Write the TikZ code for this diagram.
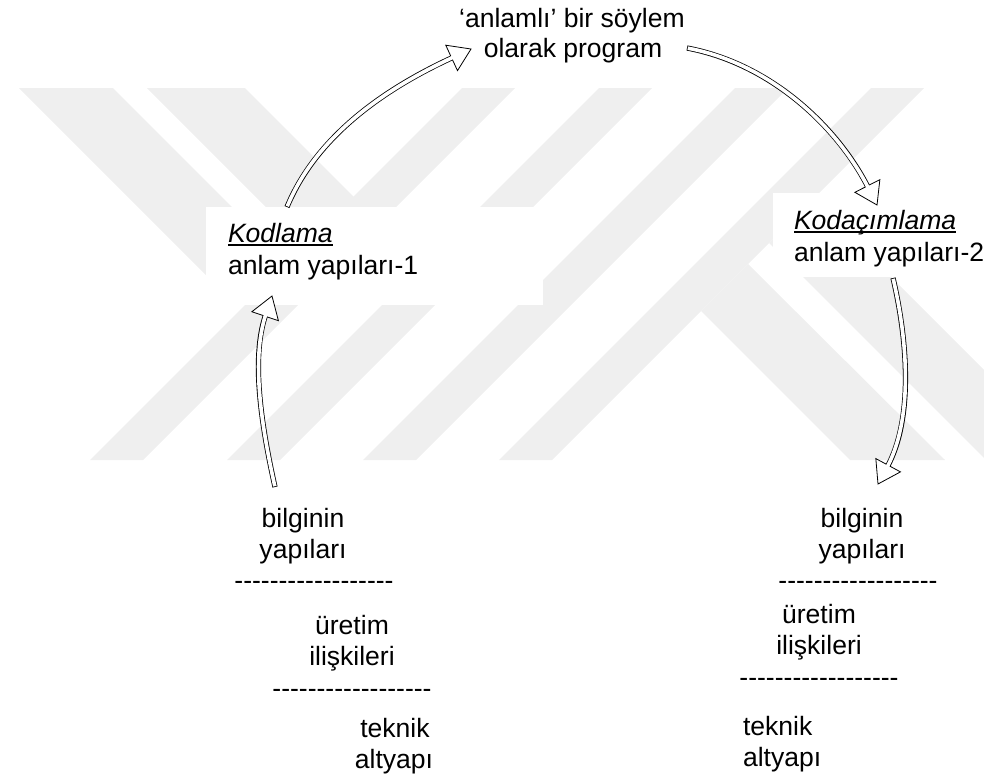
\documentclass[tikz,border=0pt]{standalone}
\usepackage{fontspec}
\setmainfont{Liberation Sans}
\usetikzlibrary{decorations.markings}
\definecolor{wm}{RGB}{239,239,239}
\newcommand\dashrow{-{}-{}-{}-{}-{}-{}-{}-{}-{}-{}-{}-{}-{}-{}-{}-{}-{}-}
\tikzset{
  txt/.style={inner sep=0pt, outer sep=0pt, font=\fontsize{19.9pt}{23pt}\selectfont},
  headmark/.style={decoration={markings, mark=at position 1 with {
      \filldraw[fill=white, draw=black, line width=0.6pt, line join=miter]
        (0pt,0pt) -- (-16pt,10.5pt) -- (-16pt,-10.5pt) -- cycle;}}},
  wordarrow/.style={
    preaction={draw=black, line width=3.9pt, shorten >=15pt},
    postaction={decorate, headmark},
    postaction={draw=white, line width=2.7pt, shorten <=0.6pt, shorten >=14pt}},
  uline/.style={line width=1.1pt},
}
\begin{document}
\begin{tikzpicture}[x=0.75pt,y=-0.75pt]
\useasboundingbox (0,0) rectangle (984,775);
% watermark
\begin{scope}
  \clip (0,88) rectangle (984,460);
  \foreach \b in {90,227,363,499}
    \fill[wm] (\b,460) -- ++(53,0) -- ++(372,-372) -- ++(-53,0) -- cycle;
  \fill[wm] (19,88) -- (113,88) -- (325,300) -- (231,300) -- cycle;
  \fill[wm] (147,88) -- (245,88) -- (457,300) -- (359,300) -- cycle;
  \fill[wm] (701,311) -- (748,264) -- (945,460) -- (850,460) -- cycle;
  \fill[wm] (769,243) -- (813,199) -- (1074,460) -- (986,460) -- cycle;
\end{scope}
% text box backgrounds
\fill[white] (206,207) rectangle (543,305);
\fill[white] (773,193) rectangle (984,277);
% texts
\node[txt, anchor=base] (top1) at (572,27) {‘anlamlı’ bir söylem};
\node[txt, anchor=base] (top2) at (573,57) {olarak program};
\node[txt, anchor=base west] (kod1) at (228,242) {\itshape Kodlama};
\node[txt, anchor=base west] (kod2) at (228,274) {anlam yapıları-1};
\node[txt, anchor=base west] (kac1) at (794,229) {\itshape Kodaçımlama};
\node[txt, anchor=base west] (kac2) at (794,261) {anlam yapıları-2};
\draw[uline] ([yshift=-2.2pt]kod1.base west) -- ([yshift=-2.2pt]kod1.base east);
\draw[uline] ([yshift=-2.2pt]kac1.base west) -- ([yshift=-2.2pt]kac1.base east);
% left column
\node[txt, anchor=base] (lb1) at (303,527) {bilginin};
\node[txt, anchor=base] (lb2) at (303,558) {yapıları};
\node[txt, anchor=base] (ld1) at (314,589) {\dashrow};
\node[txt, anchor=base] (lu1) at (352,634) {üretim};
\node[txt, anchor=base] (lu2) at (352,665) {ilişkileri};
\node[txt, anchor=base] (ld2) at (352,697) {\dashrow};
\node[txt, anchor=base] (lt1) at (395,737) {teknik};
\node[txt, anchor=base] (lt2) at (394,768) {altyapı};
% right column
\node[txt, anchor=base] (rb1) at (862,527) {bilginin};
\node[txt, anchor=base] (rb2) at (862,558) {yapıları};
\node[txt, anchor=base] (rd1) at (858,589) {\dashrow};
\node[txt, anchor=base] (ru1) at (819,623) {üretim};
\node[txt, anchor=base] (ru2) at (819,654) {ilişkileri};
\node[txt, anchor=base] (rd2) at (819,686) {\dashrow};
\node[txt, anchor=base west] (rt1) at (743,735) {teknik};
\node[txt, anchor=base west] (rt2) at (743,766) {altyapı};
% arrow end points
\coordinate (a0) at (287,207);  \coordinate (a1) at (471,49);
\coordinate (b0) at (687,48);   \coordinate (b1) at (877,205);
\coordinate (c0) at (893,278);  \coordinate (c1) at (878,484);
\coordinate (d0) at (275,487);  \coordinate (d1) at (272,296);
\path[wordarrow] (a0) .. controls (319,130) and (395,84) .. (a1);
\path[wordarrow] (b0) .. controls (772,64) and (838,128) .. (b1);
\path[wordarrow] (c0) .. controls (909,347) and (912,421) .. (c1);
\path[wordarrow] (d0) .. controls (261,424) and (251,358) .. (d1);
\end{tikzpicture}
\end{document}
